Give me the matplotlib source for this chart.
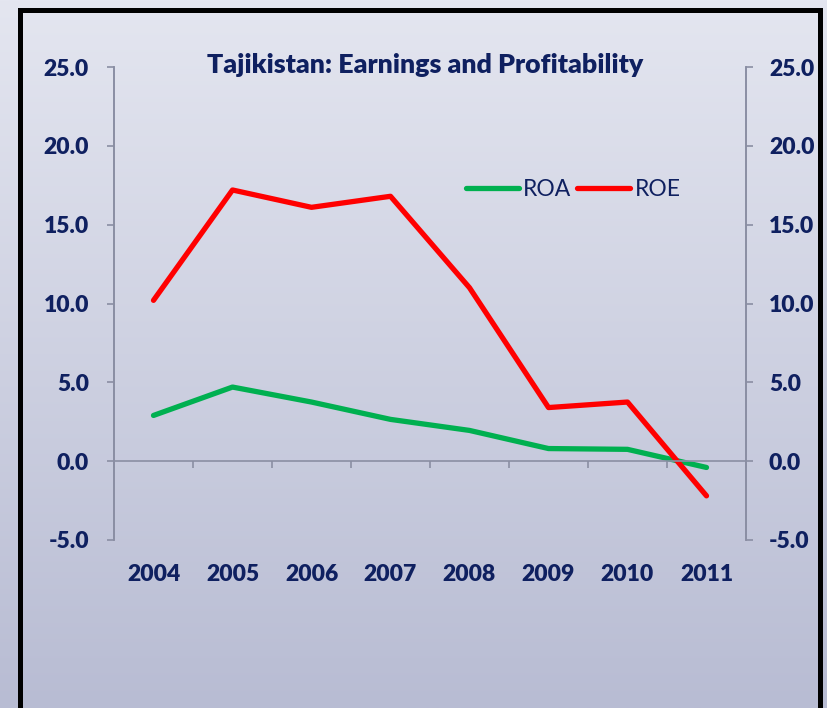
import numpy as np
import matplotlib.pyplot as plt
from matplotlib.patches import Rectangle

# Данные
years = ['2004', '2005', '2006', '2007', '2008', '2009', '2010', '2011']
roa = [2.9, 4.7, 3.75, 2.65, 1.95, 0.8, 0.75, -0.4]
roe = [10.2, 17.2, 16.1, 16.8, 11.0, 3.4, 3.75, -2.2]
yticks = [-5.0, 0.0, 5.0, 10.0, 15.0, 20.0, 25.0]

navy = '#0f2060'
grey = '#8a8ea3'
plt.rcParams['font.family'] = ['Lato', 'DejaVu Sans']

fig = plt.figure(figsize=(8.27, 7.08), dpi=100)

# Фон с градиентом
bg = fig.add_axes([0, 0, 1, 1], zorder=0)
grad = np.linspace(0, 1, 256).reshape(-1, 1)
top = np.array([228, 230, 240]) / 255
bottom = np.array([184, 188, 211]) / 255
img = top + grad[..., None] * (bottom - top)
bg.imshow(img, aspect='auto', extent=[0, 1, 0, 1])
bg.axis('off')
# Рамка
fig.patches.append(Rectangle((19.5 / 827, -0.02), 800 / 827, 1 - 9.5 / 708 + 0.02,
                             transform=fig.transFigure, fill=False,
                             edgecolor='black', linewidth=3.6, zorder=5))

ax = fig.add_axes([114 / 827, 168 / 708, 632 / 827, 473 / 708], zorder=1)
ax.patch.set_alpha(0)
x = np.arange(len(years))
ax.plot(x, roa, color='#00b050', linewidth=3.8, label='ROA', solid_capstyle='round')
ax.plot(x, roe, color='#ff0000', linewidth=3.8, label='ROE', solid_capstyle='round')

ax.set_xlim(-0.5, len(years) - 0.5)
ax.set_ylim(-5, 25)
ax.set_yticks(yticks)
ax.set_yticklabels([f'{v:.1f}' for v in yticks])
ax.tick_params(axis='y', length=5, width=1.2, color=grey, labelsize=16.5,
               labelcolor=navy, pad=13)

# Правая ось с той же шкалой
ax2 = ax.twinx()
ax2.set_ylim(-5, 25)
ax2.set_yticks(yticks)
ax2.set_yticklabels([f'{v:.1f}' for v in yticks])
ax2.tick_params(axis='y', length=5, width=1.2, color=grey, labelsize=16.5,
                labelcolor=navy, pad=11.5)
for lbl in ax.get_yticklabels() + ax2.get_yticklabels():
    lbl.set_fontweight('heavy')

for a in (ax, ax2):
    a.spines['top'].set_visible(False)
    a.spines['bottom'].set_visible(False)
    for s in ['left', 'right']:
        a.spines[s].set_color(grey)
        a.spines[s].set_linewidth(1.2)
ax.spines['bottom'].set_visible(True)
ax.spines['bottom'].set_position(('data', 0))
ax.spines['bottom'].set_color(grey)
ax.spines['bottom'].set_linewidth(1.2)

# Деления между категориями, подписи внизу
ax.set_xticks(np.arange(-0.5, len(years), 1.0))
ax.set_xticklabels([])
ax.tick_params(axis='x', which='major', length=5, width=1.2, color=grey)
ax.set_xticks(x, minor=True)
ax.set_xticklabels(years, minor=True, fontsize=16.5, fontweight='heavy', color=navy)
ax.tick_params(axis='x', which='minor', length=0, pad=74)

fig.text(425 / 827, 1 - 65 / 708, 'Tajikistan: Earnings and Profitability', fontsize=19.3,
         fontweight='heavy', color=navy, ha='center', va='center')

ax.legend(loc='center left', bbox_to_anchor=(0.557, 0.742), ncol=2, frameon=False,
          fontsize=16.5, labelcolor=navy, handlelength=2.3, handletextpad=0.2,
          columnspacing=0.25, borderaxespad=0, borderpad=0)

fig.savefig('out.png', dpi=100)
